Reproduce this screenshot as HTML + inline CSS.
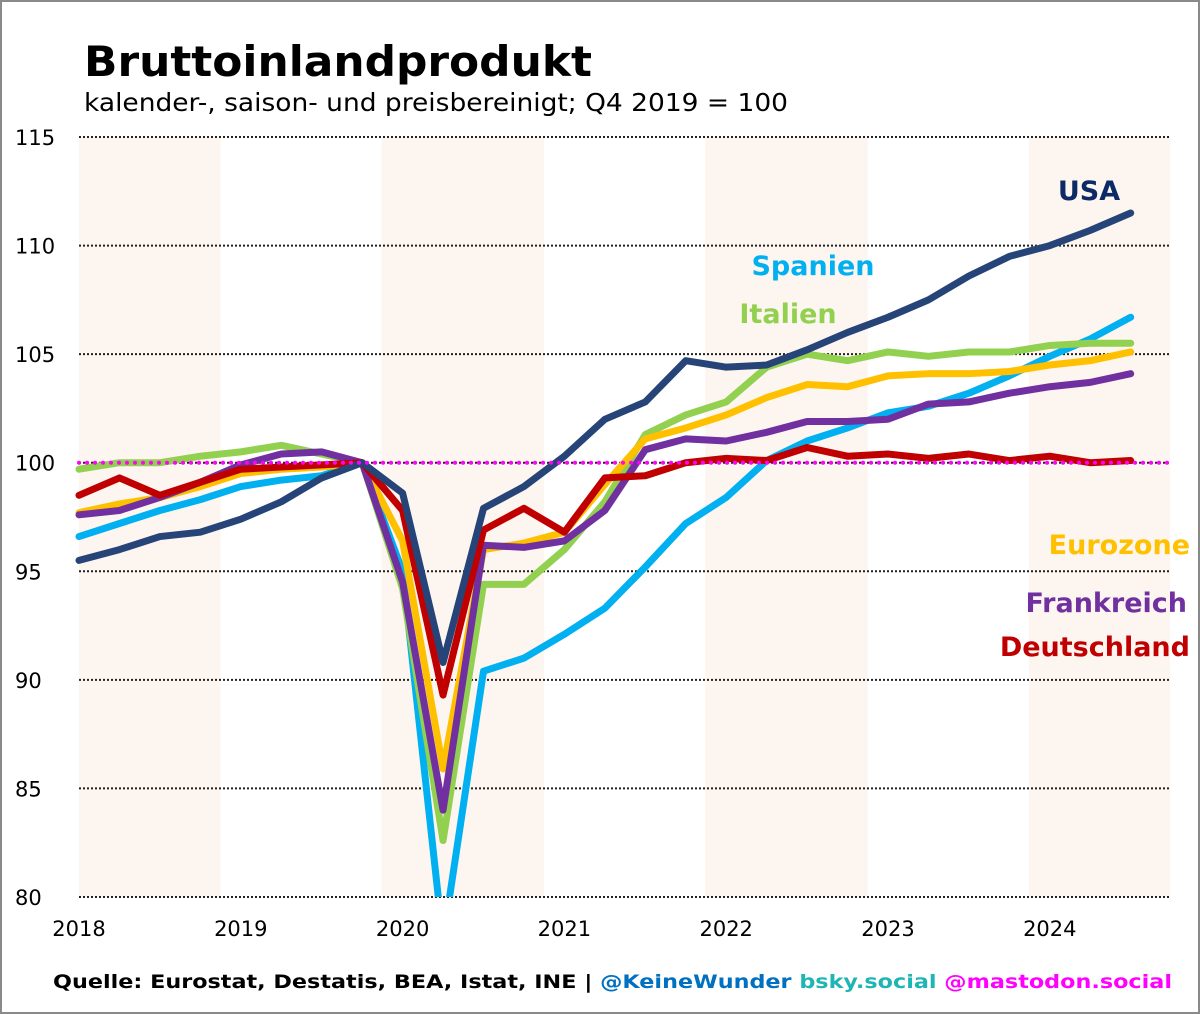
<!DOCTYPE html>
<html><head><meta charset="utf-8"><style>
html,body{margin:0;padding:0;background:#fff}
svg{display:block}
text{font-family:"DejaVu Sans","Liberation Sans",sans-serif}
</style></head><body>
<svg id="chart" width="1200" height="1014" viewBox="0 0 1200 1014" xmlns="http://www.w3.org/2000/svg">
<rect x="1" y="1" width="1198" height="1012" fill="#fff" stroke="#8a8a8a" stroke-width="2"/>
<text x="84" y="76" font-size="42" font-weight="bold" textLength="508" lengthAdjust="spacingAndGlyphs">Bruttoinlandprodukt</text>
<text x="84" y="111" font-size="25" textLength="704" lengthAdjust="spacingAndGlyphs">kalender-, saison- und preisbereinigt; Q4 2019 = 100</text>
<g id="bands"></g>
<g id="grid"></g>
<g id="series"></g>
<g id="labels"></g>
<text x="53" y="988" font-size="19" font-weight="bold" textLength="1119" lengthAdjust="spacingAndGlyphs"><tspan fill="#000">Quelle: Eurostat, Destatis, BEA, Istat, INE | </tspan><tspan fill="#0070c0">@KeineWunder </tspan><tspan fill="#1fb5b5">bsky.social </tspan><tspan fill="#ff00ff">@mastodon.social</tspan></text>
</svg>
<script>
const yTicks=[80,85,90,95,100,105,110,115];
const years=[2018,2019,2020,2021,2022,2023,2024];
const shadedYears=[2018,2020,2022,2024];
const usa=[95.5,96.0,96.6,96.8,97.4,98.2,99.3,100,98.6,90.8,97.9,98.9,100.3,102.0,102.8,104.7,104.4,104.5,105.2,106.0,106.7,107.5,108.6,109.5,110.0,110.7,111.5];
const spanien=[96.6,97.2,97.8,98.3,98.9,99.2,99.4,100,95.0,78.0,90.4,91.0,92.1,93.3,95.2,97.2,98.4,100.1,101.0,101.6,102.3,102.6,103.2,104.0,104.9,105.7,106.7];
const italien=[99.7,100.0,100.0,100.3,100.5,100.8,100.4,100,94.2,82.6,94.4,94.4,96.0,98.2,101.3,102.2,102.8,104.4,105.0,104.7,105.1,104.9,105.1,105.1,105.4,105.5,105.5];
const eurozone=[97.7,98.1,98.4,98.9,99.5,99.7,99.8,100,96.4,85.9,96.0,96.3,96.8,99.0,101.1,101.6,102.2,103.0,103.6,103.5,104.0,104.1,104.1,104.2,104.5,104.7,105.1];
const frankreich=[97.6,97.8,98.4,99.1,99.9,100.4,100.5,100,94.5,84.0,96.2,96.1,96.4,97.8,100.6,101.1,101.0,101.4,101.9,101.9,102.0,102.7,102.8,103.2,103.5,103.7,104.1];
const deutschland=[98.5,99.3,98.5,99.1,99.7,99.8,99.9,100,97.8,89.3,96.9,97.9,96.8,99.3,99.4,100.0,100.2,100.1,100.7,100.3,100.4,100.2,100.4,100.1,100.3,100.0,100.1];

const NS="http://www.w3.org/2000/svg";
const L=79,R=1170,T=137,B=897;
const yScale=v=>T+(115-v)*(B-T)/35;
const xScale=t=>L+(t-2018)*161.8; // t in years
const qx=i=>xScale(2018+i/4);
function mk(tag,attrs,parent){const e=document.createElementNS(NS,tag);for(const k in attrs)e.setAttribute(k,attrs[k]);parent.appendChild(e);return e;}
const svg=document.getElementById('chart');
const defs=mk('defs',{},svg);
const cp=mk('clipPath',{id:'plotclip'},defs);
mk('rect',{x:0,y:T-20,width:1200,height:B-T+20},cp);

const bands=document.getElementById('bands');
shadedYears.forEach(y=>{
  const x0=Math.max(L,xScale(y-0.13)),x1=Math.min(R,xScale(y+0.875));
  const r=mk('rect',{x:x0,y:T,width:x1-x0,height:B-T,fill:'#fdf5f0'},bands);
  
  
});
const grid=document.getElementById('grid');
yTicks.forEach(v=>{
  const y=yScale(v);
  const l=mk('line',{x1:L,x2:R,y1:y,y2:y,stroke:'#222','stroke-width':2,'stroke-dasharray':'2 2'},grid);
  
  
  const t=mk('text',{x:15,y:y+8,'font-size':21,fill:'#000'},grid);
  t.textContent=v;
  
  
});
years.forEach(yr=>{
  const t=mk('text',{x:xScale(yr),y:936,'font-size':21,'text-anchor':'middle',fill:'#000'},grid);
  t.textContent=yr;
  
  
});
const ser=document.getElementById('series');
const g=mk('g',{'clip-path':'url(#plotclip)'},ser);
const list=[['usa',usa,'#264478'],['spanien',spanien,'#00b0f0'],['eurozone',eurozone,'#ffc000'],['deutschland',deutschland,'#c00000'],['frankreich',frankreich,'#7030a0'],['italien',italien,'#92d050']];
// draw order: spain first, then others
[['spanien',spanien,'#00b0f0'],['italien',italien,'#92d050'],['eurozone',eurozone,'#ffc000'],['frankreich',frankreich,'#7030a0'],['deutschland',deutschland,'#c00000'],['usa',usa,'#264478']].forEach(([n,d,c])=>{
  const p=mk('polyline',{points:d.map((v,i)=>qx(i)+','+yScale(v)).join(' '),fill:'none',stroke:c,'stroke-width':7,'stroke-linejoin':'round','stroke-linecap':'round'},g);
  
  
});
const ref=mk('line',{x1:L,x2:R,y1:yScale(100),y2:yScale(100),stroke:'#ff00ff','stroke-width':4,'stroke-dasharray':'0 8','stroke-linecap':'round'},ser);


const labs=document.getElementById('labels');
[['USA',1089,200,'middle','#0d2a66'],['Spanien',813,275,'middle','#00b0f0'],['Italien',788,323,'middle','#92d050'],['Eurozone',1190,554,'end','#ffc000'],['Frankreich',1187,612,'end','#7030a0'],['Deutschland',1190,656,'end','#c00000']].forEach(([s,x,y,a,c])=>{
  const t=mk('text',{x:x,y:y,'font-size':27,'font-weight':'bold','text-anchor':a,fill:c},labs);
  t.textContent=s;
  
  
});
</script>
</body></html>
